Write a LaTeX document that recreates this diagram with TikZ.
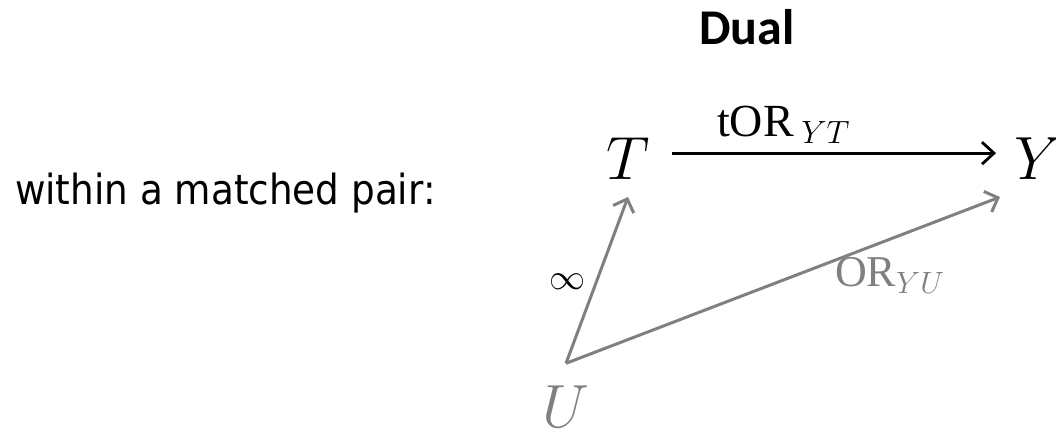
\RequirePackage{fix-cm}
\documentclass[tikz,border=0pt]{standalone}
\usepackage{fontspec}
\newfontfamily\tahomafont{DejaVu Sans Condensed}
\newfontfamily\calibrifont{Carlito}
\newfontfamily\romanfont{Liberation Serif}
\usetikzlibrary{arrows.meta}
\definecolor{arrgray}{RGB}{128,128,128}
\tikzset{
  txt/.style={inner sep=0pt, outer sep=0pt},
  bigmath/.style={txt, anchor=base, font=\fontsize{61}{61}\selectfont},
  blackarrow/.style={draw=black, line width=2.8pt, -{Straight Barb[length=12pt,width=22pt,line width=2.8pt]}},
  grayarrow/.style={draw=arrgray, line width=3pt, -{Straight Barb[length=11pt,width=22pt,line width=3pt]}},
}
\begin{document}
\begin{tikzpicture}[x=1pt,y=-1pt]
\useasboundingbox (0,0) rectangle (1056,435);
\node[txt, anchor=base west, font=\tahomafont\fontsize{41.5}{41.5}\selectfont] (lbl) at (15,205) {within a matched pair:};
\node[txt, anchor=base, font=\calibrifont\bfseries\fontsize{50}{50}\selectfont] (dual) at (747,45) {Dual};
\node[bigmath] (T) at (628,180) {$T$};
\node[bigmath] (Y) at (1038,180) {$Y$};
\node[bigmath, text=arrgray] (U) at (566,427) {$U$};
\coordinate (v) at ([yshift=22pt]U.north);
\draw[blackarrow] ([xshift=22pt,yshift=6pt]T.east) -- ([xshift=-18pt,yshift=6pt]Y.west);
\draw[grayarrow] (v) -- ([yshift=-17pt]T.south);
\draw[grayarrow] (v) -- ([xshift=-38pt,yshift=-17pt]Y.south);
\node[txt, anchor=base west, font=\fontsize{46}{46}\selectfont] (tor) at (717,137) {\romanfont tOR\,$_{YT}$};
\node[txt, anchor=base west, text=arrgray, font=\fontsize{44}{44}\selectfont] (or) at (835,287) {\romanfont OR$_{YU}$};
\node[txt, font=\fontsize{36}{36}\selectfont] (inf) at (567,282) {$\infty$};
\end{tikzpicture}
\end{document}
